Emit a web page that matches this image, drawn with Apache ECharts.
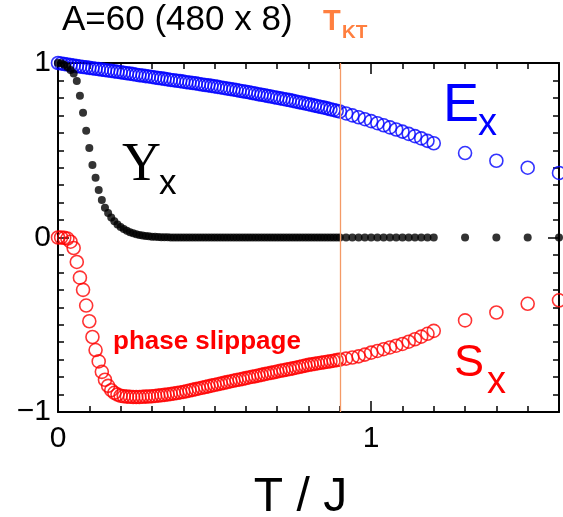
<!DOCTYPE html>
<html>
<head>
<meta charset="utf-8">
<script src="https://cdn.jsdelivr.net/npm/echarts@6/dist/echarts.min.js"></script>
<style>
html,body{margin:0;padding:0;background:#fff;}
#chart{width:563px;height:517px;}
</style>
</head>
<body>
<div id="chart"></div>
<script>
// Temperature values T/J
const T = [
0.00,0.01,0.02,0.03,0.04,0.05,0.06,0.07,0.08,0.09,
0.10,0.11,0.12,0.13,0.14,0.15,0.16,0.17,0.18,0.19,
0.20,0.21,0.22,0.23,0.24,0.25,0.26,0.27,0.28,0.29,
0.30,0.31,0.32,0.33,0.34,0.35,0.36,0.37,0.38,0.39,
0.40,0.41,0.42,0.43,0.44,0.45,0.46,0.47,0.48,0.49,
0.50,0.51,0.52,0.53,0.54,0.55,0.56,0.57,0.58,0.59,
0.60,0.61,0.62,0.63,0.64,0.65,0.66,0.67,0.68,0.69,
0.70,0.71,0.72,0.73,0.74,0.75,0.76,0.77,0.78,0.79,
0.80,0.81,0.82,0.83,0.84,0.85,0.86,0.87,0.88,0.89,
0.90,
0.92,0.94,0.96,0.98,1.00,1.02,1.04,1.06,1.08,1.10,1.12,1.14,1.16,1.18,1.20,
1.3,1.4,1.5,1.6];

// E_x (blue open circles)
const Ex = [
1.000,0.997,0.994,0.991,0.988,0.985,0.982,0.980,0.977,0.975,
0.972,0.970,0.967,0.965,0.962,0.960,0.957,0.955,0.952,0.950,
0.947,0.944,0.941,0.939,0.936,0.933,0.930,0.928,0.925,0.923,
0.920,0.917,0.914,0.912,0.909,0.906,0.903,0.901,0.898,0.896,
0.893,0.890,0.888,0.885,0.883,0.880,0.877,0.874,0.872,0.869,
0.866,0.863,0.860,0.857,0.854,0.851,0.848,0.845,0.841,0.838,
0.835,0.832,0.828,0.825,0.821,0.818,0.815,0.811,0.808,0.804,
0.801,0.797,0.794,0.790,0.787,0.783,0.779,0.775,0.772,0.768,
0.764,0.760,0.756,0.752,0.748,0.744,0.740,0.735,0.731,0.726,
0.722,
0.711,0.700,0.689,0.678,0.667,0.655,0.643,0.631,0.619,0.607,0.594,0.581,0.568,0.554,0.540,
0.484,0.440,0.400,0.370];

// Y_x (black dots)
const Yx = [
1.000,0.998,0.990,0.977,0.960,0.940,0.897,0.813,0.715,0.612,
0.513,0.415,0.343,0.272,0.215,0.171,0.140,0.115,0.093,0.075,
0.060,0.048,0.038,0.030,0.024,0.019,0.015,0.012,0.009,0.007,
0.005,0.004,0.003,0.002,0.002,0.001,0,0,0,0,
0,0,0,0,0,0,0,0,0,0,
0,0,0,0,0,0,0,0,0,0,
0,0,0,0,0,0,0,0,0,0,
0,0,0,0,0,0,0,0,0,0,
0,0,0,0,0,0,0,0,0,0,
0,
0,0,0,0,0,0,0,0,0,0,0,0,0,0,0,
0,0,0,0];

// S_x (red open circles)
const Sx = [
0.000,0.000,-0.002,-0.006,-0.024,-0.060,-0.140,-0.230,-0.300,-0.390,
-0.480,-0.570,-0.645,-0.710,-0.770,-0.815,-0.850,-0.875,-0.890,-0.900,
-0.907,-0.910,-0.912,-0.913,-0.914,-0.914,-0.914,-0.913,-0.912,-0.911,
-0.910,-0.908,-0.906,-0.904,-0.902,-0.900,-0.897,-0.894,-0.891,-0.888,
-0.885,-0.881,-0.877,-0.873,-0.869,-0.865,-0.861,-0.857,-0.853,-0.849,
-0.845,-0.841,-0.837,-0.833,-0.829,-0.825,-0.821,-0.817,-0.814,-0.810,
-0.806,-0.802,-0.798,-0.795,-0.791,-0.787,-0.783,-0.779,-0.776,-0.772,
-0.768,-0.764,-0.761,-0.757,-0.754,-0.750,-0.746,-0.742,-0.738,-0.734,
-0.730,-0.727,-0.724,-0.721,-0.718,-0.715,-0.712,-0.709,-0.706,-0.703,
-0.700,
-0.694,-0.688,-0.681,-0.671,-0.660,-0.650,-0.640,-0.630,-0.620,-0.610,-0.597,-0.583,-0.568,-0.552,-0.535,
-0.475,-0.430,-0.380,-0.360];

const T_KT = 0.895;
const xTickLabels = [0, 1];
const yTickLabels = [-1, 0, 1];

const FONT = '"Liberation Sans", Arial, sans-serif';
const pair = arr => T.map((t, i) => [t, arr[i]]);

function fmtX(v){
  for (const t of xTickLabels) if (Math.abs(v - t) < 1e-6) return String(t);
  return '';
}
function fmtY(v){
  for (const t of yTickLabels) if (Math.abs(v - t) < 1e-6) return t < 0 ? '\u2212' + Math.abs(t) : String(t);
  return '';
}

function minorAxis(pos, isX, label){
  return {
    type:'value', position:pos,
    min: isX ? 0 : -1, max: isX ? 1.6 : 1, interval:0.1,
    axisLine:{show:true, onZero:false, lineStyle:{color:'#000', width:2}},
    axisTick:{show:true, inside:true, length:6, lineStyle:{color:'#000', width:1.5}},
    axisLabel: label ? {show:true, formatter: isX ? fmtX : fmtY, fontSize:30, color:'#000', fontFamily:FONT, margin: isX ? 12 : 7} : {show:false},
    splitLine:{show:false}
  };
}
function majorAxis(pos, isX){
  return {
    type:'value', position:pos,
    min: isX ? 0 : -1, max: isX ? 1.6 : 1, interval:1,
    axisLine:{show:false, onZero:false},
    axisTick:{show:true, inside:true, length:11, lineStyle:{color:'#000', width:1.5}},
    axisLabel:{show:false},
    splitLine:{show:false}
  };
}

const xMain = minorAxis('bottom', true, true);
xMain.name = 'T / J';
xMain.nameLocation = 'middle';
xMain.nameGap = 62;
xMain.nameTextStyle = {fontSize:48, color:'#000', fontFamily:FONT, padding:[0,16,0,0]};

const chart = echarts.init(document.getElementById('chart'), null, {renderer:'canvas'});
chart.setOption({
  animation:false,
  backgroundColor:'#fff',
  textStyle:{fontFamily:FONT},
  grid:{left:58, right:4, top:63, bottom:105, containLabel:false, outerBoundsMode:'none'},
  xAxis:[xMain, minorAxis('top', true, false), majorAxis('bottom', true), majorAxis('top', true)],
  yAxis:[minorAxis('left', false, true), minorAxis('right', false, false), majorAxis('left', false), majorAxis('right', false)],
  series:[
    {
      name:'Ex', type:'scatter', xAxisIndex:0, yAxisIndex:0,
      data: pair(Ex), symbol:'circle', symbolSize:13,
      itemStyle:{color:'rgba(0,0,0,0)', borderColor:'#0000ff', borderWidth:1.6},
      emphasis:{disabled:true},
      markLine:{
        silent:true, symbol:'none', label:{show:false},
        lineStyle:{color:'#f49a66', width:1.3, type:'solid'},
        data:[{xAxis:T_KT}]
      }
    },
    {
      name:'Sx', type:'scatter', xAxisIndex:0, yAxisIndex:0,
      data: pair(Sx), symbol:'circle', symbolSize:13,
      itemStyle:{color:'rgba(0,0,0,0)', borderColor:'#ff0000', borderWidth:1.6},
      emphasis:{disabled:true}
    },
    {
      name:'Yx', type:'scatter', xAxisIndex:0, yAxisIndex:0,
      data: pair(Yx), symbol:'circle', symbolSize:8,
      itemStyle:{color:'#000'},
      emphasis:{disabled:true}
    }
  ],
  graphic:[
    {type:'text', left:62, top:3, style:{text:'A=60 (480 x 8)', font:'35px ' + FONT, fill:'#000'}},
    {type:'text', x:323, y:22, style:{text:'T', font:'bold 29px ' + FONT, fill:'#ff7f3f', verticalAlign:'middle'}},
    {type:'text', x:342, y:33, style:{text:'KT', font:'bold 19px ' + FONT, fill:'#ff7f3f', verticalAlign:'middle'}},
    {type:'text', x:443, y:106, style:{text:'E', font:'54px ' + FONT, fill:'#0000ff', verticalAlign:'middle'}},
    {type:'text', x:478, y:125, style:{text:'x', font:'38px ' + FONT, fill:'#0000ff', verticalAlign:'middle'}},
    {type:'text', x:122, y:166, style:{text:'Y', font:'54px "Liberation Serif", "Times New Roman", serif', fill:'#000', verticalAlign:'middle'}},
    {type:'text', x:159, y:184, style:{text:'x', font:'35px ' + FONT, fill:'#000', verticalAlign:'middle'}},
    {type:'text', x:454, y:364, style:{text:'S', font:'45px ' + FONT, fill:'#ff0000', verticalAlign:'middle'}},
    {type:'text', x:487, y:383, style:{text:'x', font:'38px ' + FONT, fill:'#ff0000', verticalAlign:'middle'}},
    {type:'text', x:113, y:342, style:{text:'phase slippage', font:'bold 26px ' + FONT, fill:'#ff0000', verticalAlign:'middle'}}
  ]
});
</script>
</body>
</html>
